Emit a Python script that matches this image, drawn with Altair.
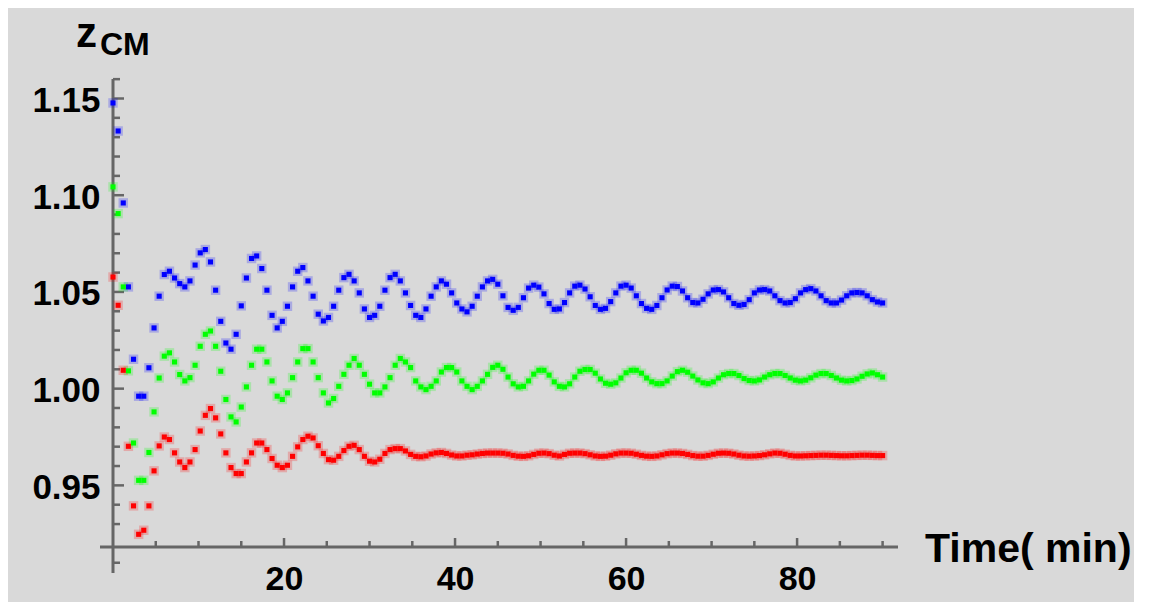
import altair as alt
import pandas as pd

# ---- data ------------------------------------------------------------------
time_min = [round(0.6 * i, 1) for i in range(151)]   # sampling every 0.6 min

z_blue = [1.1477, 1.1332, 1.0960, 1.0526, 1.0152, 0.9961, 0.9961, 1.0108, 1.0314, 1.0478,
          1.0590, 1.0607, 1.0572, 1.0543, 1.0526, 1.0557, 1.0639, 1.0702, 1.0719, 1.0655,
          1.0509, 1.0348, 1.0236, 1.0204, 1.0281, 1.0428, 1.0572, 1.0673, 1.0686, 1.0621,
          1.0509, 1.0379, 1.0314, 1.0348, 1.0426, 1.0526, 1.0607, 1.0626, 1.0557, 1.0478,
          1.0385, 1.0350, 1.0368, 1.0426, 1.0509, 1.0574, 1.0591, 1.0557, 1.0495, 1.0412,
          1.0368, 1.0379, 1.0426, 1.0509, 1.0574, 1.0591, 1.0557, 1.0495, 1.0430, 1.0379,
          1.0368, 1.0412, 1.0478, 1.0526, 1.0557, 1.0540, 1.0495, 1.0443, 1.0412, 1.0397,
          1.0426, 1.0478, 1.0526, 1.0557, 1.0565, 1.0540, 1.0480, 1.0420, 1.0405, 1.0420,
          1.0470, 1.0520, 1.0535, 1.0525, 1.0490, 1.0440, 1.0410, 1.0412, 1.0445, 1.0495,
          1.0530, 1.0535, 1.0515, 1.0475, 1.0430, 1.0410, 1.0415, 1.0450, 1.0495, 1.0530,
          1.0535, 1.0520, 1.0480, 1.0440, 1.0415, 1.0410, 1.0430, 1.0470, 1.0510, 1.0530,
          1.0528, 1.0505, 1.0470, 1.0445, 1.0443, 1.0462, 1.0490, 1.0510, 1.0512, 1.0500,
          1.0470, 1.0440, 1.0431, 1.0435, 1.0460, 1.0495, 1.0510, 1.0512, 1.0505, 1.0480,
          1.0455, 1.0443, 1.0445, 1.0465, 1.0495, 1.0512, 1.0517, 1.0505, 1.0480, 1.0455,
          1.0443, 1.0443, 1.0458, 1.0480, 1.0495, 1.0497, 1.0495, 1.0480, 1.0460, 1.0448,
          1.0443]

z_green = [1.1043, 1.0905, 1.0526, 1.0092, 0.9719, 0.9526, 0.9526, 0.9670, 0.9880, 1.0055,
           1.0168, 1.0185, 1.0138, 1.0073, 1.0040, 1.0057, 1.0121, 1.0219, 1.0281, 1.0298,
           1.0219, 1.0090, 0.9944, 0.9854, 0.9828, 0.9905, 1.0009, 1.0121, 1.0204, 1.0204,
           1.0138, 1.0040, 0.9961, 0.9944, 0.9978, 1.0057, 1.0138, 1.0207, 1.0207, 1.0138,
           1.0057, 0.9978, 0.9926, 0.9949, 1.0012, 1.0074, 1.0121, 1.0156, 1.0121, 1.0074,
           1.0023, 0.9978, 0.9978, 1.0009, 1.0057, 1.0121, 1.0156, 1.0138, 1.0109, 1.0040,
           1.0009, 0.9995, 1.0012, 1.0040, 1.0086, 1.0109, 1.0109, 1.0086, 1.0040, 1.0012,
           0.9995, 1.0012, 1.0040, 1.0074, 1.0110, 1.0121, 1.0100, 1.0060, 1.0025, 1.0009,
           1.0012, 1.0040, 1.0075, 1.0095, 1.0095, 1.0070, 1.0035, 1.0012, 1.0009, 1.0025,
           1.0060, 1.0090, 1.0099, 1.0099, 1.0080, 1.0050, 1.0028, 1.0023, 1.0030, 1.0055,
           1.0082, 1.0095, 1.0095, 1.0080, 1.0055, 1.0035, 1.0026, 1.0026, 1.0040, 1.0065,
           1.0088, 1.0095, 1.0085, 1.0065, 1.0045, 1.0030, 1.0026, 1.0035, 1.0055, 1.0072,
           1.0078, 1.0078, 1.0068, 1.0052, 1.0042, 1.0040, 1.0045, 1.0060, 1.0072, 1.0078,
           1.0078, 1.0068, 1.0055, 1.0044, 1.0040, 1.0044, 1.0056, 1.0070, 1.0078, 1.0078,
           1.0068, 1.0055, 1.0044, 1.0040, 1.0042, 1.0050, 1.0064, 1.0076, 1.0081, 1.0072,
           1.0060]

z_red = [1.0577, 1.0431, 1.0095, 0.9702, 0.9394, 0.9247, 0.9268, 0.9394, 0.9575, 0.9704,
         0.9750, 0.9737, 0.9668, 0.9621, 0.9592, 0.9621, 0.9685, 0.9781, 0.9862, 0.9897,
         0.9849, 0.9766, 0.9668, 0.9592, 0.9561, 0.9561, 0.9621, 0.9668, 0.9719, 0.9719,
         0.9685, 0.9639, 0.9604, 0.9592, 0.9604, 0.9650, 0.9699, 0.9737, 0.9754, 0.9745,
         0.9705, 0.9665, 0.9633, 0.9630, 0.9650, 0.9680, 0.9702, 0.9707, 0.9685, 0.9650,
         0.9625, 0.9621, 0.9635, 0.9665, 0.9685, 0.9690, 0.9690, 0.9678, 0.9660, 0.9650,
         0.9648, 0.9652, 0.9662, 0.9668, 0.9670, 0.9665, 0.9657, 0.9652, 0.9652, 0.9656,
         0.9658, 0.9662, 0.9665, 0.9667, 0.9667, 0.9667, 0.9666, 0.9662, 0.9655, 0.9651,
         0.9650, 0.9653, 0.9660, 0.9666, 0.9667, 0.9664, 0.9656, 0.9652, 0.9660, 0.9666,
         0.9667, 0.9667, 0.9664, 0.9658, 0.9652, 0.9650, 0.9651, 0.9656, 0.9663, 0.9667,
         0.9667, 0.9666, 0.9661, 0.9655, 0.9651, 0.9650, 0.9652, 0.9658, 0.9664, 0.9667,
         0.9667, 0.9665, 0.9660, 0.9654, 0.9651, 0.9651, 0.9655, 0.9661, 0.9666, 0.9667,
         0.9666, 0.9662, 0.9656, 0.9652, 0.9651, 0.9652, 0.9654, 0.9658, 0.9663, 0.9667,
         0.9666, 0.9661, 0.9655, 0.9652, 0.9652, 0.9653, 0.9654, 0.9655, 0.9656, 0.9656,
         0.9655, 0.9654, 0.9653, 0.9653, 0.9654, 0.9655, 0.9656, 0.9656, 0.9655, 0.9654,
         0.9654]

series_names = ["blue", "green", "red"]
series_colors = ["#0000ff", "#00ff00", "#ff0000"]

y_major = [0.95, 1.00, 1.05, 1.10, 1.15]
y_minor = [0.91, 0.93, 0.94, 0.96, 0.97, 0.98, 0.99, 1.01, 1.02, 1.03, 1.04,
           1.06, 1.07, 1.08, 1.09, 1.11, 1.12, 1.13, 1.14, 1.16]
x_major = [20, 40, 60, 80]
x_minor = [5, 10, 15, 25, 30, 35, 45, 50, 55, 65, 70, 75, 85, 90]

x_title = "Time( min)"
y_title_main = "z"
y_title_sub = "CM"

# ---- tables ---------------------------------------------------------------
points = pd.DataFrame({
    "t": time_min * 3,
    "z": z_blue + z_green + z_red,
    "series": [series_names[0]] * len(z_blue) + [series_names[1]] * len(z_green)
              + [series_names[2]] * len(z_red),
})

X_DOM = [0, 91.8]
Y_DOM = [0.91814, 1.16008]
xs = alt.Scale(domain=X_DOM, nice=False, zero=False)
ys = alt.Scale(domain=Y_DOM, nice=False, zero=False)
cs = alt.Scale(domain=series_names, range=series_colors)

FONT = "Liberation Sans"
AX = "#666666"
W, H = 785, 468

x_axis = alt.Axis(values=x_major, format="d", title=None, domain=False,
                  ticks=False, tickSize=0, grid=False, labelPadding=15,
                  labelFont=FONT, labelFontWeight="bold", labelFontSize=34,
                  labelColor="black")
y_axis = alt.Axis(values=y_major, format=".2f", title=None, domain=False,
                  ticks=False, tickSize=0, grid=False, labelPadding=13,
                  labelOffset=2,
                  labelFont=FONT, labelFontWeight="bold", labelFontSize=35,
                  labelColor="black")

halo = alt.Chart(points).mark_square(size=90, opacity=0.22, strokeWidth=0).encode(
    x=alt.X("t:Q", scale=xs, axis=x_axis),
    y=alt.Y("z:Q", scale=ys, axis=y_axis),
    color=alt.Color("series:N", scale=cs, legend=None),
)

core = alt.Chart(points).mark_square(size=26, opacity=1, strokeWidth=0).encode(
    x=alt.X("t:Q", scale=xs, axis=x_axis),
    y=alt.Y("z:Q", scale=ys, axis=y_axis),
    color=alt.Color("series:N", scale=cs, legend=None),
)

# axis lines (Mathematica style, crossing and overshooting)
yline = alt.Chart(pd.DataFrame({"x": [0], "y": [0.9047], "y2": [Y_DOM[1]]})).mark_rule(
    color=AX, strokeWidth=3).encode(
    x=alt.X("x:Q", scale=xs, axis=x_axis),
    y=alt.Y("y:Q", scale=ys, axis=y_axis), y2="y2:Q")
xline = alt.Chart(pd.DataFrame({"x": [-1.52], "x2": [X_DOM[1]], "y": [Y_DOM[0]]})).mark_rule(
    color=AX, strokeWidth=3).encode(
    x=alt.X("x:Q", scale=xs, axis=x_axis), x2="x2:Q",
    y=alt.Y("y:Q", scale=ys, axis=y_axis))

# inward ticks
ytick_major = alt.Chart(pd.DataFrame({"v": y_major})).mark_rule(color=AX, strokeWidth=2.5).encode(
    y=alt.Y("v:Q", scale=ys, axis=y_axis), x=alt.value(0), x2=alt.value(11))
ytick_minor = alt.Chart(pd.DataFrame({"v": y_minor})).mark_rule(color=AX, strokeWidth=2.5).encode(
    y=alt.Y("v:Q", scale=ys, axis=y_axis), x=alt.value(0), x2=alt.value(7))
xtick_major = alt.Chart(pd.DataFrame({"v": x_major})).mark_rule(color=AX, strokeWidth=2.5).encode(
    x=alt.X("v:Q", scale=xs, axis=x_axis), y=alt.value(H), y2=alt.value(H - 9))
xtick_minor = alt.Chart(pd.DataFrame({"v": x_minor})).mark_rule(color=AX, strokeWidth=2.5).encode(
    x=alt.X("v:Q", scale=xs, axis=x_axis), y=alt.value(H), y2=alt.value(H - 6))

# axis titles
xlab = alt.Chart(pd.DataFrame({"s": [x_title]})).mark_text(
    font=FONT, fontWeight="bold", fontSize=41, align="left", baseline="alphabetic",
    color="black").encode(text="s:N", x=alt.value(812), y=alt.value(H + 15))
zlab = alt.Chart(pd.DataFrame({"s": [y_title_main]})).mark_text(
    font=FONT, fontWeight="bold", fontSize=42, align="left", baseline="alphabetic",
    color="black").encode(text="s:N", x=alt.value(-37), y=alt.value(-32))
cmlab = alt.Chart(pd.DataFrame({"s": [y_title_sub]})).mark_text(
    font=FONT, fontWeight="bold", fontSize=32, align="left", baseline="alphabetic",
    color="black").encode(text="s:N", x=alt.value(-13), y=alt.value(-24))

chart = alt.layer(
    yline, xline, ytick_major, ytick_minor, xtick_major, xtick_minor,
    halo, core, xlab, zlab, cmlab
).properties(
    width=W, height=H,
    background="#d9d9d9",
    autosize=alt.AutoSizeParams(type="none"),
    padding={"left": 105, "top": 71, "right": 236, "bottom": 55},
).configure_view(stroke=None)

chart.save("out.html", embed_options={"renderer": "svg", "actions": False})
